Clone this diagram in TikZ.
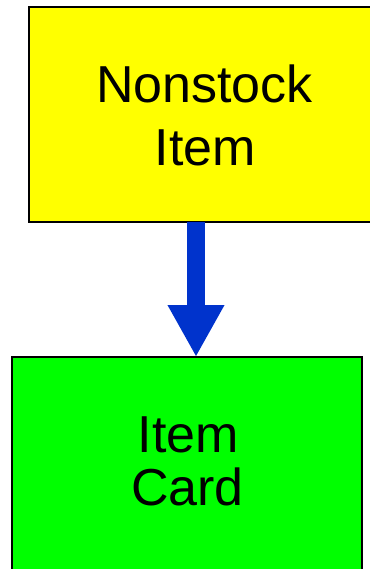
\documentclass[tikz,border=0pt]{standalone}
\usepackage{fontspec}
\setmainfont{Liberation Sans}
\usetikzlibrary{arrows.meta}
\definecolor{boxyellow}{RGB}{255,255,0}
\definecolor{boxgreen}{RGB}{0,255,0}
\definecolor{arrowblue}{RGB}{0,51,204}
\begin{document}
\begin{tikzpicture}[x=1pt,y=1pt,
  box/.style={draw=black, line width=2pt, inner sep=0pt, outer sep=0pt},
  lbl/.style={font=\fontsize{52}{62}\selectfont, inner sep=0pt, anchor=base},
  flow/.style={draw=arrowblue, line width=18pt, -{Triangle[width=53pt,length=52pt]}}]
\useasboundingbox (0,0) rectangle (369,-569);
\node[box, fill=boxyellow, minimum width=352pt, minimum height=215pt, anchor=north west] (nonstock) at (29,-7) {};
\node[box, fill=boxgreen, minimum width=350pt, minimum height=220pt, anchor=north west] (card) at (12,-357) {};
\node[lbl] (t1) at (204.5,-102.3) {Nonstock};
\node[lbl] (t2) at (205.5,-166) {Item};
\node[lbl] (t3) at (188.5,-452.7) {Item};
\node[lbl] (t4) at (187.5,-505) {Card};
\draw[flow] (nonstock.south -| 196,0) -- (card.north -| 196,0);
\end{tikzpicture}
\end{document}
